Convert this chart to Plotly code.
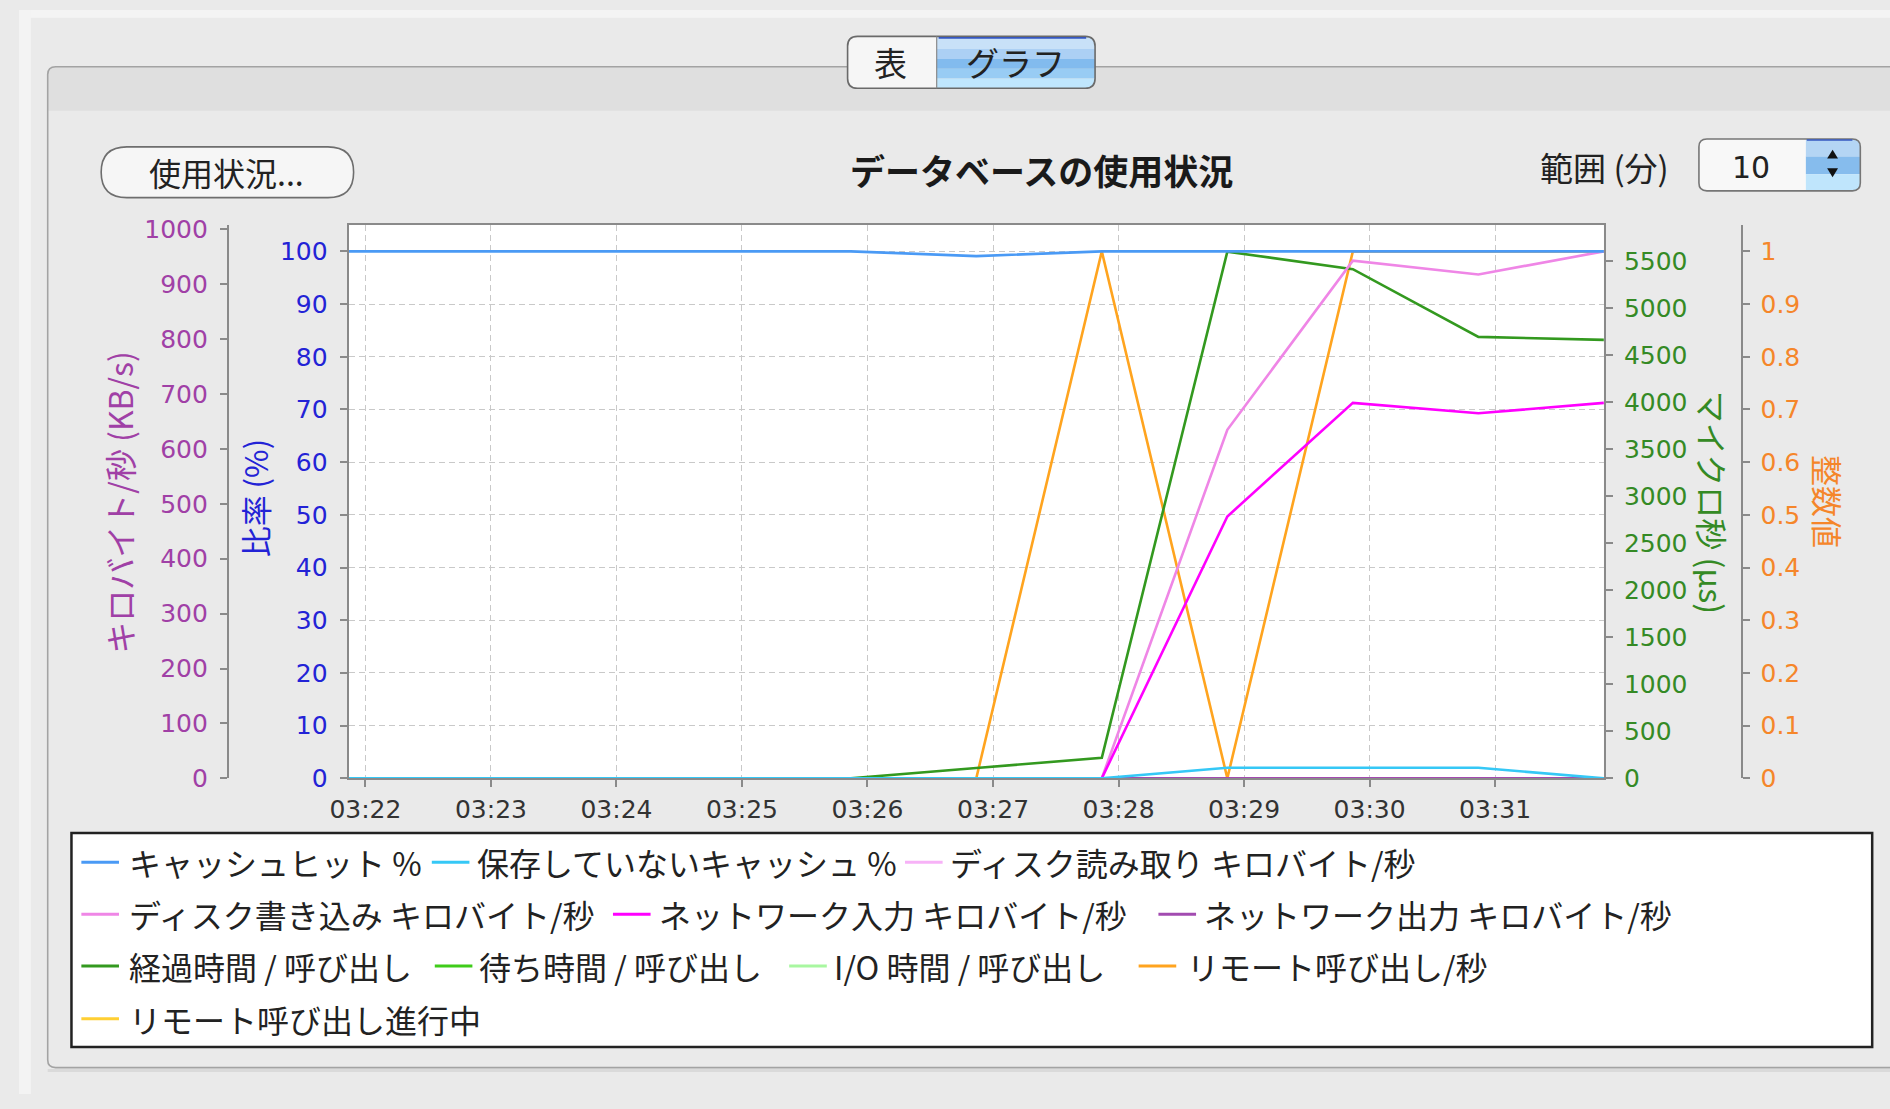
import plotly.graph_objects as go

W, H = 1890, 1109

# ---------------- data ----------------
day = "2013-05-20 "
times = ["03:21:52", "03:22:52", "03:23:52", "03:24:52", "03:25:52", "03:26:52",
         "03:27:52", "03:28:52", "03:29:52", "03:30:52", "03:31:52"]
x_range = ["03:21:52", "03:31:52"]

cache_hit_pct     = [100, 100, 100, 100, 100, 99.1, 100, 100, 100, 100, 100]
cache_unsaved_pct = [0, 0, 0, 0, 0, 0, 0, 2, 2, 2, 0]
disk_read_kbs     = [0, 0, 0, 0, 0, 0, 0, 0, 0, 0, 0]
disk_write_kbs    = [0, 0, 0, 0, 0, 0, 0, 635, 943, 918, 960]
net_in_kbs        = [0, 0, 0, 0, 0, 0, 0, 477, 684, 665, 684]
net_out_kbs       = [0, 0, 0, 0, 0, 0, 0, 0, 0, 0, 0]
elapsed_us        = [0, 0, 0, 0, 0, 110, 217, 5597, 5411, 4691, 4659]
wait_us           = [0, 0, 0, 0, 0, 0, 0, 0, 0, 0, 0]
io_us             = [0, 0, 0, 0, 0, 0, 0, 0, 0, 0, 0]
remote_calls_ps   = [0, 0, 0, 0, 0, 0, 1, 0, 1, 1, 1]
remote_inprog     = [0, 0, 0, 0, 0, 0, 0, 0, 0, 0, 0]

names = {
    "hit": "キャッシュヒット %",
    "unsaved": "保存していないキャッシュ %",
    "dread": "ディスク読み取り キロバイト/秒",
    "dwrite": "ディスク書き込み キロバイト/秒",
    "nin": "ネットワーク入力 キロバイト/秒",
    "nout": "ネットワーク出力 キロバイト/秒",
    "elapsed": "経過時間 / 呼び出し",
    "wait": "待ち時間 / 呼び出し",
    "io": "I/O 時間 / 呼び出し",
    "rcalls": "リモート呼び出し/秒",
    "rprog": "リモート呼び出し進行中",
}
colors = {
    "hit": "#4a9af5", "unsaved": "#35c8f6", "dread": "#f7b2f7", "dwrite": "#ef86e6",
    "nin": "#ff00ff", "nout": "#a24bb0", "elapsed": "#33991f", "wait": "#3fcc1a",
    "io": "#a8f7a0", "rcalls": "#ffa41f", "rprog": "#ffcf33",
}
# axis ids: y = integer (base), y2 = microseconds, y3 = KB/s, y4 = percent (top layer)
values = {
    "rprog": (remote_inprog, "y"), "rcalls": (remote_calls_ps, "y"),
    "io": (io_us, "y2"), "wait": (wait_us, "y2"), "elapsed": (elapsed_us, "y2"),
    "dread": (disk_read_kbs, "y3"), "dwrite": (disk_write_kbs, "y3"),
    "nin": (net_in_kbs, "y3"), "nout": (net_out_kbs, "y3"),
    "unsaved": (cache_unsaved_pct, "y4"), "hit": (cache_hit_pct, "y4"),
}
draw_order = ["rprog", "rcalls", "io", "wait", "elapsed", "dread", "dwrite",
              "nin", "nout", "unsaved", "hit"]

xs = [day + t for t in times]

fig = go.Figure()
for key in draw_order:
    vals, ax = values[key]
    fig.add_trace(go.Scatter(x=xs, y=vals, yaxis=ax, mode="lines", name=names[key],
                             line=dict(color=colors[key], width=2.6),
                             showlegend=False, hoverinfo="skip"))

# ---------------- geometry helpers (screen pixels -> paper) ----------------
def px(x):
    return x / W


def py(y):
    return 1 - y / H


def pt(x, y):
    return f"{px(x):.5f},{py(y):.5f}"


def rpath(x0, y0, x1, y1, r=(0, 0, 0, 0)):
    tl, tr, br, bl = r
    return (f"M{pt(x0 + tl, y0)} L{pt(x1 - tr, y0)} Q{pt(x1, y0)} {pt(x1, y0 + tr)} "
            f"L{pt(x1, y1 - br)} Q{pt(x1, y1)} {pt(x1 - br, y1)} "
            f"L{pt(x0 + bl, y1)} Q{pt(x0, y1)} {pt(x0, y1 - bl)} "
            f"L{pt(x0, y0 + tl)} Q{pt(x0, y0)} {pt(x0 + tl, y0)} Z")


shapes = []


def add_path(path, fill=None, line=None, lw=0):
    shapes.append(dict(type="path", path=path, xref="paper", yref="paper",
                       fillcolor=fill if fill else "rgba(0,0,0,0)",
                       line=dict(color=line if line else "rgba(0,0,0,0)", width=lw),
                       layer="below"))


def add_line(x0, y0, x1, y1, color, lw):
    shapes.append(dict(type="line", xref="paper", yref="paper",
                       x0=px(x0), y0=py(y0), x1=px(x1), y1=py(y1),
                       line=dict(color=color, width=lw), layer="below"))


annotations = []
JP = "Noto Sans CJK JP"
NUM = "DejaVu Sans"


def add_text(x, y, text, size, color="#222222", family=JP, xanchor="center", angle=0):
    annotations.append(dict(x=px(x), y=py(y), xref="paper", yref="paper", text=text,
                            showarrow=False, xanchor=xanchor, yanchor="middle",
                            textangle=angle, borderpad=0,
                            font=dict(size=size, color=color, family=family)))


# ---------------- window chrome ----------------
add_path(rpath(0, 0, W, 8), fill="#f4f4f4")
add_path(rpath(0, 0, 12, H), fill="#f3f3f3")
# panel header band and outline
add_path(rpath(29, 58, W + 20, 103, (8, 0, 0, 0)), fill="#dfdfdf")
add_path(rpath(29, 58, W + 20, 1082, (8, 0, 0, 8)), line="#a3a3a3", lw=1.6)
add_line(29, 1085, W, 1085, "#dadada", 3)

# segmented control
add_path(rpath(837, 27, 927, 80, (10, 0, 0, 10)), fill="#f6f6f6")
add_path(rpath(927, 27, 1087, 40, (0, 10, 0, 0)), fill="#c8e1f8")
add_path(rpath(927, 40, 1087, 50), fill="#acd0f4")
add_path(rpath(927, 50, 1087, 60), fill="#82bbee")
add_path(rpath(927, 60, 1087, 70), fill="#98ccf4")
add_path(rpath(927, 70, 1087, 80, (0, 0, 10, 0)), fill="#bfe6fd")
add_path(rpath(837, 27, 1087, 80, (10, 10, 10, 10)), line="#6a6a6a", lw=1.6)
add_line(927, 27, 927, 80, "#8a8a8a", 1.2)
add_line(929, 28.5, 1078, 28.5, "#3657c0", 1.6)
add_text(880, 53, "表", 33)
add_text(1007, 53, "グラフ", 33)

# "使用状況..." button
add_path(rpath(83, 140, 338, 192, (26, 26, 26, 26)), fill="#f6f6f6", line="#6e6e6e", lw=1.6)
add_text(210, 166, "使用状況...", 32)

# title
add_text(1033, 163, "<b>データベースの使用状況</b>", 35, color="#1a1a1a")

# range spinner
add_text(1602, 161, "範囲 (分)", 33)
add_path(rpath(1697, 132, 1860, 185, (8, 8, 8, 8)), fill="#f8f8f8")
add_path(rpath(1805, 132, 1860, 150, (0, 8, 0, 0)), fill="#b4d5f4")
add_path(rpath(1805, 150, 1860, 168), fill="#86bced")
add_path(rpath(1805, 168, 1860, 185, (0, 0, 8, 0)), fill="#bfe5fc")
add_path(rpath(1697, 132, 1860, 185, (8, 8, 8, 8)), line="#767676", lw=1.6)
add_line(1806, 133, 1852, 133, "#3657c0", 1.6)
add_path(f"M{pt(1826.5, 152)} L{pt(1837.5, 152)} L{pt(1832, 143)} Z", fill="#111111")
add_path(f"M{pt(1826.5, 162)} L{pt(1837.5, 162)} L{pt(1832, 171)} Z", fill="#111111")
add_text(1750, 161, "10", 30, family=NUM)

# ---------------- axis titles ----------------
add_text(101, 503, "キロバイト/秒 (KB/s)", 32, color="#a040a6", angle=-90)
add_text(238, 500, "比率 (%)", 31, color="#2323d6", angle=-90)
add_text(1712, 504, "マイクロ秒 (µs)", 32, color="#358a25", angle=90)
add_text(1828, 503, "整数値", 31, color="#f5862a", angle=90)

# ---------------- legend box ----------------
add_path(rpath(53, 842, 1872, 1061), fill="#ffffff", line="#222222", lw=2.5)
legend_rows = [
    (872, [("hit", 63, 113), ("unsaved", 417, 465), ("dread", 895, 942)]),
    (925, [("dwrite", 63, 113), ("nin", 600, 648), ("nout", 1151, 1199)]),
    (978, [("elapsed", 63, 113), ("wait", 420, 467), ("io", 778, 825), ("rcalls", 1131, 1182)]),
    (1032, [("rprog", 63, 113)]),
]
for yrow, items in legend_rows:
    for key, sx, tx in items:
        add_line(sx, yrow, sx + 38, yrow, colors[key], 3)
        add_text(tx - 3, yrow, names[key], 32, color="#222222", xanchor="left")

# ---------------- axes ----------------
grid = dict(showgrid=True, gridcolor="#c9c9c9", griddash="6px,4px", gridwidth=1)
axline = dict(showline=True, linecolor="#8a8a8a", linewidth=2, zeroline=False,
              ticks="outside", ticklen=7, tickwidth=1.5, tickcolor="#8a8a8a")
TF = 25

fig.update_layout(
    width=W, height=H, margin=dict(l=0, r=0, t=0, b=0),
    paper_bgcolor="#eaeaea", plot_bgcolor="#ffffff",
    showlegend=False, hovermode=False,
    font=dict(family=NUM, size=TF, color="#333333"),
    shapes=shapes, annotations=annotations,
    xaxis=dict(domain=[px(333), px(1601)], type="date",
               range=[day + x_range[0], day + x_range[1]],
               tick0=day + "03:22:00", dtick=60000, tickformat="%H:%M",
               tickfont=dict(size=TF, color="#333333", family=NUM),
               mirror=True, ticklabelstandoff=1, **grid, **axline),
    # integer values (base layer)
    yaxis=dict(domain=[py(786), py(220)], anchor="free", position=px(1740), side="right",
               range=[0, 1.05], tick0=0, dtick=0.1, showgrid=False,
               tickfont=dict(size=TF, color="#f5862a", family=NUM),
               ticklabelstandoff=6, **axline),
    # microseconds
    yaxis2=dict(overlaying="y", anchor="x", side="right",
                range=[0, 5880], tick0=0, dtick=500, showgrid=False,
                tickfont=dict(size=TF, color="#358a25", family=NUM),
                ticklabelstandoff=6, **axline),
    # kilobytes per second
    yaxis3=dict(overlaying="y", anchor="free", position=px(211), side="left",
                range=[0, 1008], tick0=0, dtick=100, showgrid=False,
                tickfont=dict(size=TF, color="#a040a6", family=NUM),
                ticklabelstandoff=7, **axline),
    # percent (top layer, carries the horizontal grid)
    yaxis4=dict(overlaying="y", anchor="x", side="left",
                range=[0, 105], tick0=0, dtick=10,
                tickfont=dict(size=TF, color="#2323d6", family=NUM),
                ticklabelstandoff=7, **grid, **axline),
)

fig.write_html("out.html", config={"displayModeBar": False},
               post_script="document.body.style.margin='0';document.body.style.overflow='hidden';")
